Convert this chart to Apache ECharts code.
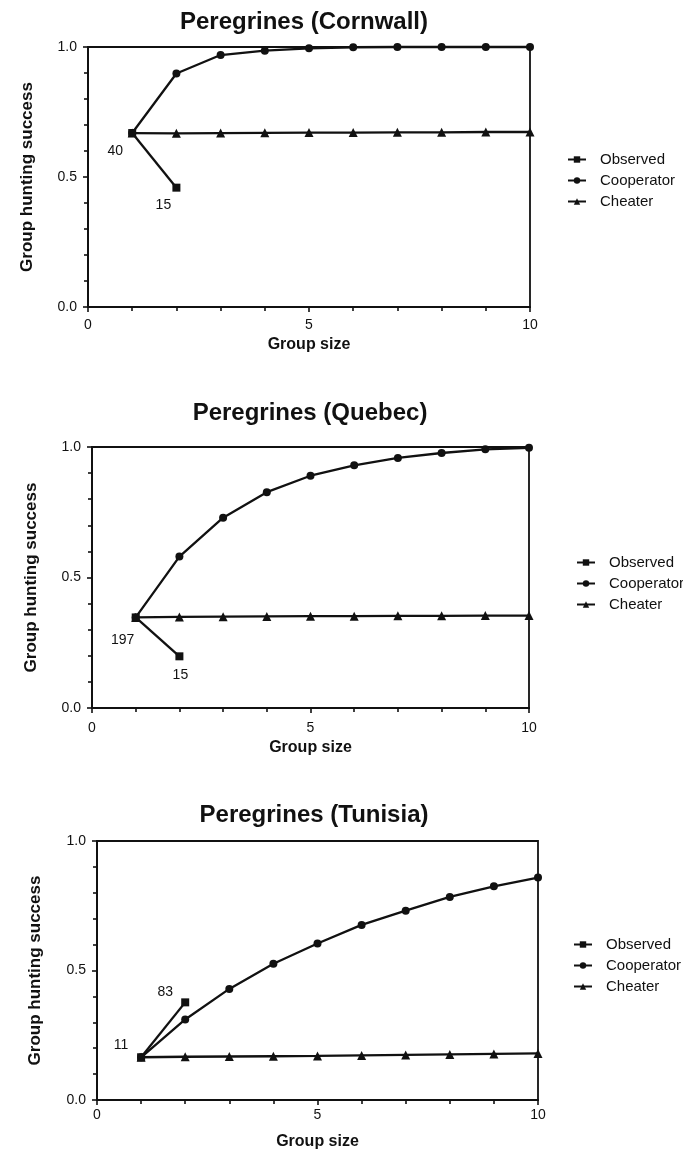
<!DOCTYPE html>
<html>
<head>
<meta charset="utf-8">
<title>Peregrines group hunting success</title>
<script src="https://cdn.jsdelivr.net/npm/echarts@6/dist/echarts.min.js"></script>
<style>
  html, body { margin: 0; padding: 0; background: #fff; }
  #chart { width: 683px; height: 1152px; }
</style>
</head>
<body>
<div id="chart"></div>
<script>
// Group size (number of hunters)
const groupSize = [1, 2, 3, 4, 5, 6, 7, 8, 9, 10];
const observedSize = [1, 2];

// Cornwall
const cornwallCooperator = [0.669, 0.898, 0.969, 0.986, 0.995, 0.999, 1.0, 1.0, 1.0, 1.0];
const cornwallCheater    = [0.669, 0.668, 0.669, 0.670, 0.671, 0.671, 0.672, 0.672, 0.673, 0.673];
const cornwallObserved   = [0.669, 0.459];
const cornwallN          = [40, 15];

// Quebec
const quebecCooperator = [0.347, 0.580, 0.729, 0.827, 0.890, 0.930, 0.958, 0.977, 0.991, 0.997];
const quebecCheater    = [0.347, 0.349, 0.350, 0.351, 0.352, 0.352, 0.353, 0.353, 0.354, 0.354];
const quebecObserved   = [0.347, 0.198];
const quebecN          = [197, 15];

// Tunisia
const tunisiaCooperator = [0.165, 0.311, 0.429, 0.526, 0.604, 0.676, 0.731, 0.784, 0.825, 0.859];
const tunisiaCheater    = [0.165, 0.167, 0.168, 0.169, 0.170, 0.172, 0.174, 0.176, 0.178, 0.180];
const tunisiaObserved   = [0.165, 0.377];
const tunisiaN          = [11, 83];

const seriesNames = ['Observed', 'Cooperator', 'Cheater'];
const yTicks = ['0.0', '0.5', '1.0'];

const INK = '#111';
const FONT = "'Liberation Sans', Arial, Helvetica, sans-serif";

const panels = [
  {
    title: 'Peregrines (Cornwall)', coop: cornwallCooperator, cheat: cornwallCheater,
    obs: cornwallObserved, n: cornwallN,
    grid: { left: 88, top: 47, width: 442, height: 260 },
    titlePos: [304, 22], labelOffsets: [[-17, 18], [-13, 17]],
    legend: { left: 562, top: 147 }, xLabelMargin: 11, xNameGap: 30, yNameGap: 52
  },
  {
    title: 'Peregrines (Quebec)', coop: quebecCooperator, cheat: quebecCheater,
    obs: quebecObserved, n: quebecN,
    grid: { left: 92, top: 447, width: 437, height: 261 },
    titlePos: [310, 413], labelOffsets: [[-13, 23], [1, 19]],
    legend: { left: 571, top: 550 }, xLabelMargin: 13, xNameGap: 32, yNameGap: 52
  },
  {
    title: 'Peregrines (Tunisia)', coop: tunisiaCooperator, cheat: tunisiaCheater,
    obs: tunisiaObserved, n: tunisiaN,
    grid: { left: 97, top: 841, width: 441, height: 259 },
    titlePos: [314, 815], labelOffsets: [[-20, -12], [-20, -10]],
    legend: { left: 568, top: 932 }, xLabelMargin: 8, xNameGap: 34, yNameGap: 53
  }
];

const pairs = (xs, ys) => ys.map((y, i) => [xs[i], y]);

const grids = [], xAxes = [], yAxes = [], series = [], legends = [], graphics = [];

panels.forEach((p, i) => {
  grids.push(Object.assign({ show: true, borderColor: INK, borderWidth: 1.8, backgroundColor: 'transparent' }, p.grid));

  xAxes.push({
    type: 'value', gridIndex: i, min: 0, max: 10, interval: 5,
    axisLine: { show: true, onZero: false, lineStyle: { color: INK, width: 2 } },
    axisTick: { show: true, inside: false, length: 5, lineStyle: { color: INK, width: 1.6 } },
    minorTick: { show: true, splitNumber: 5, length: 4, lineStyle: { color: INK, width: 1.6 } },
    splitLine: { show: false }, minorSplitLine: { show: false },
    axisLabel: { color: INK, fontSize: 14, fontFamily: FONT, margin: p.xLabelMargin },
    name: 'Group size', nameLocation: 'middle', nameGap: p.xNameGap,
    nameTextStyle: { color: INK, fontSize: 16, fontWeight: 'bold', fontFamily: FONT }
  });

  yAxes.push({
    type: 'value', gridIndex: i, min: 0, max: 1, interval: 0.5,
    axisLine: { show: true, onZero: false, lineStyle: { color: INK, width: 2 } },
    axisTick: { show: true, inside: false, length: 5, lineStyle: { color: INK, width: 1.6 } },
    minorTick: { show: true, splitNumber: 5, length: 4, lineStyle: { color: INK, width: 1.6 } },
    splitLine: { show: false }, minorSplitLine: { show: false },
    axisLabel: {
      color: INK, fontSize: 14, fontFamily: FONT, margin: 11,
      formatter: v => yTicks[Math.round(v * 2)] || ''
    },
    name: 'Group hunting success', nameLocation: 'middle', nameRotate: 90, nameGap: p.yNameGap,
    nameTextStyle: { color: INK, fontSize: 17, fontWeight: 'bold', fontFamily: FONT }
  });

  const lineBase = {
    type: 'line', xAxisIndex: i, yAxisIndex: i, clip: false, silent: true,
    lineStyle: { color: INK, width: 2.3 }, itemStyle: { color: INK },
    showAllSymbol: true, animation: false
  };

  series.push(Object.assign({}, lineBase, {
    name: 'Cheater', symbol: 'triangle', symbolSize: 9,
    data: pairs(groupSize, p.cheat)
  }));
  series.push(Object.assign({}, lineBase, {
    name: 'Cooperator', symbol: 'circle', symbolSize: 8,
    data: pairs(groupSize, p.coop)
  }));
  series.push(Object.assign({}, lineBase, {
    name: 'Observed', symbol: 'rect', symbolSize: 8, z: 3,
    data: pairs(observedSize, p.obs).map((d, k) => ({
      value: d,
      label: {
        show: true, position: 'inside', offset: p.labelOffsets[k],
        formatter: String(p.n[k]),
        color: INK, fontSize: 14, fontFamily: FONT
      }
    }))
  }));

  legends.push({
    orient: 'vertical', left: p.legend.left, top: p.legend.top,
    data: seriesNames, itemWidth: 18, itemHeight: 8, itemGap: 6,
    selectedMode: false,
    textStyle: { color: INK, fontSize: 15, fontFamily: FONT, lineHeight: 15, padding: [0, 0, 0, 9] }
  });

  graphics.push({
    type: 'text', x: p.titlePos[0], y: p.titlePos[1], silent: true,
    style: {
      text: p.title, fill: INK, textAlign: 'center', textVerticalAlign: 'middle',
      font: "bold 24px " + FONT
    }
  });
});

const chart = echarts.init(document.getElementById('chart'), null, { renderer: 'canvas' });
chart.setOption({
  animation: false,
  backgroundColor: '#fff',
  grid: grids,
  xAxis: xAxes,
  yAxis: yAxes,
  legend: legends,
  series: series,
  graphic: graphics
});
</script>
</body>
</html>
